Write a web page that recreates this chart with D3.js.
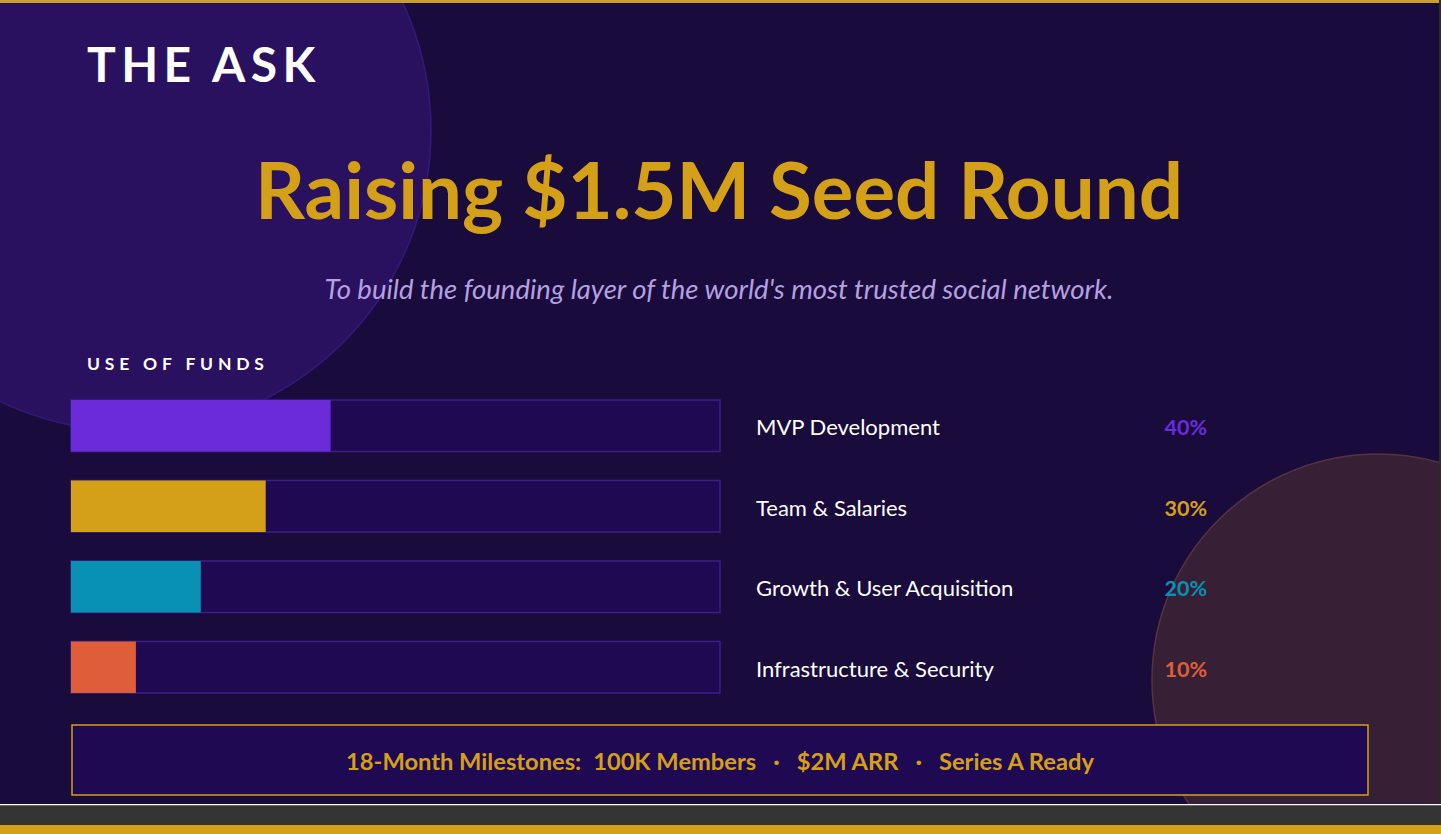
<!DOCTYPE html>
<html>
<head>
<meta charset="utf-8">
<script src="https://cdn.jsdelivr.net/npm/d3@7"></script>
<style>
  html, body { margin: 0; padding: 0; background: #343434; overflow: hidden; }
  svg { display: block; font-family: Lato, "Noto Sans", sans-serif; }
</style>
</head>
<body>
<div id="chart"></div>
<script>
const categories = ["MVP Development", "Team & Salaries", "Growth & User Acquisition", "Infrastructure & Security"];
const shares = [40, 30, 20, 10];
const barColors = ["#6c2bd9", "#d4a017", "#0891b2", "#e05d3a"];
const milestoneLead = "18-Month Milestones:";
const milestones = ["100K Members", "$2M ARR", "Series A Ready"];
const titleText = "Raising $1.5M Seed Round";
const kicker = "THE ASK";
const subtitle = "To build the founding layer of the world's most trusted social network.";
const sectionLabel = "USE OF FUNDS";

const W = 1441, H = 834, slideH = 804;
const svg = d3.select("#chart").append("svg").attr("width", W).attr("height", H);

// slide background
svg.append("rect").attr("x", 0).attr("y", 0).attr("width", W).attr("height", slideH).attr("fill", "#1a0b3d");

// decorative circles
svg.append("circle").attr("cx", 130).attr("cy", 130).attr("r", 301)
  .attr("fill", "#2a1160").attr("stroke", "#35197a").attr("stroke-width", 1.5);
svg.append("circle").attr("cx", 1378).attr("cy", 680).attr("r", 226)
  .attr("fill", "#372036").attr("stroke", "#54343f").attr("stroke-width", 1.5);

// footer strips
svg.append("rect").attr("x", 0).attr("y", slideH).attr("width", W).attr("height", 1.5).attr("fill", "#ffffff");
svg.append("rect").attr("x", 0).attr("y", slideH + 1.5).attr("width", W).attr("height", 20).attr("fill", "#343434");
svg.append("rect").attr("x", 0).attr("y", 825).attr("width", W).attr("height", 9).attr("fill", "#d4a017");
// top gold line
svg.append("rect").attr("x", 0).attr("y", 0).attr("width", W).attr("height", 3).attr("fill", "#c9a030");
// right edge strip
svg.append("rect").attr("x", 1439).attr("y", 0).attr("width", 2).attr("height", slideH).attr("fill", "#2b2b2b");

// texts
svg.append("text").attr("x", 87).attr("y", 82).text(kicker)
  .attr("fill", "#ffffff").attr("font-weight", 700).attr("font-size", 48).attr("letter-spacing", "5.4px");

svg.append("text").attr("x", 719).attr("y", 219).attr("text-anchor", "middle").text(titleText)
  .attr("fill", "#d4a017").attr("font-weight", 700).attr("font-size", 78);

svg.append("text").attr("x", 719).attr("y", 299).attr("text-anchor", "middle").text(subtitle)
  .attr("fill", "#b5a0e0").attr("font-style", "italic").attr("font-size", 27.5);

svg.append("text").attr("x", 87).attr("y", 370).text(sectionLabel)
  .attr("fill", "#ffffff").attr("font-weight", 700).attr("font-size", 17.5).attr("letter-spacing", "4.8px");

// scales
const x = d3.scaleLinear().domain([0, 100]).range([71, 720]);
const y = d3.scaleBand().domain(categories).range([400, 693]).paddingInner(0.36).paddingOuter(0);

const rows = svg.append("g").selectAll("g").data(categories).join("g");

rows.append("rect")
  .attr("x", x(0)).attr("y", d => y(d))
  .attr("width", x(100) - x(0)).attr("height", y.bandwidth())
  .attr("fill", "#1f0953").attr("stroke", "#3a2185").attr("stroke-width", 1.5);

rows.append("rect")
  .attr("x", x(0)).attr("y", d => y(d))
  .attr("width", (d, i) => x(shares[i]) - x(0)).attr("height", y.bandwidth())
  .attr("fill", (d, i) => barColors[i]);

rows.append("text")
  .attr("x", 756).attr("y", d => y(d) + y.bandwidth() / 2 + 2).attr("dy", "0.35em")
  .text(d => d).attr("fill", "#ffffff").attr("font-size", 22);

rows.append("text")
  .attr("x", 1207).attr("y", d => y(d) + y.bandwidth() / 2 + 2).attr("dy", "0.35em")
  .attr("text-anchor", "end")
  .text((d, i) => shares[i] + "%").attr("fill", (d, i) => barColors[i])
  .attr("font-weight", 700).attr("font-size", 21.5);

// milestone box
svg.append("rect").attr("x", 72).attr("y", 725).attr("width", 1296).attr("height", 70)
  .attr("fill", "#1f0953").attr("stroke", "#d4a017").attr("stroke-width", 1.5);

const mt = svg.append("text").attr("x", 720).attr("y", 770).attr("text-anchor", "middle")
  .attr("fill", "#d4a017").attr("font-weight", 700).attr("font-size", 23.7);
mt.append("tspan").text(milestoneLead);
milestones.forEach((m, i) => {
  if (i > 0) mt.append("tspan").attr("dx", 17).text("·");
  mt.append("tspan").attr("dx", i === 0 ? 12 : 17).text(m);
});
</script>
</body>
</html>
